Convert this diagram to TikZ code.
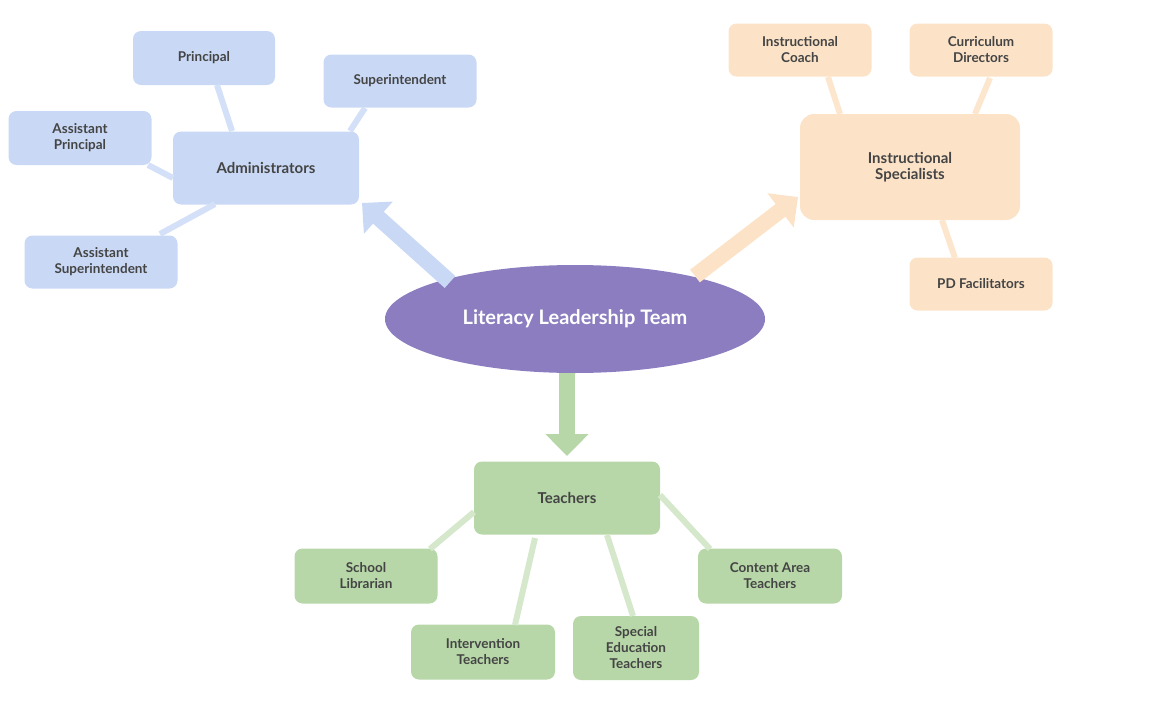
\documentclass[tikz,border=0pt]{standalone}
\usepackage{fontspec}
\setmainfont{Lato}
\usetikzlibrary{shapes.geometric,arrows.meta}
\definecolor{bl}{HTML}{C9D9F5}\definecolor{bll}{HTML}{D3E0F7}
\definecolor{or}{HTML}{FCE3C8}\definecolor{orl}{HTML}{FCE6CE}
\definecolor{gr}{HTML}{B7D7A8}\definecolor{grl}{HTML}{D5E8CC}
\definecolor{pu}{HTML}{8B7DC0}\definecolor{tx}{HTML}{444444}
\tikzset{
 box/.style={rounded corners=8pt,align=center,text=tx,font=\bfseries\fontsize{13.5}{16}\selectfont,inner sep=0pt},
 b/.style={box,fill=bl},o/.style={box,fill=or},g/.style={box,fill=gr},
 lnk/.style={line width=6pt},
 big/.style={line width=16pt,-{Triangle[length=22pt,width=42pt]}}
}
\begin{document}
\begin{tikzpicture}[x=1pt,y=-1pt]
\useasboundingbox (0,0) rectangle (1152,704);
\node[b,minimum width=142pt,minimum height=54pt] (pr) at (204,58) {Principal};
\node[b,minimum width=153pt,minimum height=53pt] (su) at (400,81) {Superintendent};
\node[b,minimum width=143pt,minimum height=54pt] (ap) at (80,138) {Assistant\\Principal};
\node[b,minimum width=186pt,minimum height=73pt] (ad) at (266,168) {\fontsize{15}{18}\selectfont Administrators};
\node[b,minimum width=153pt,minimum height=53pt] (as) at (101,262) {Assistant\\Superintendent};
\node[o,minimum width=143pt,minimum height=53pt] (ic) at (800,50) {Instructional\\Coach};
\node[o,minimum width=143pt,minimum height=53pt] (cd) at (981,50) {Curriculum\\Directors};
\node[o,minimum width=220pt,minimum height=106pt,rounded corners=14pt] (is) at (910,167) {\fontsize{15}{18}\selectfont Instructional\\\fontsize{15}{18}\selectfont Specialists};
\node[o,minimum width=143pt,minimum height=53pt] (pd) at (981,284) {PD Facilitators};
\node[g,minimum width=186pt,minimum height=73pt] (te) at (567,498) {\fontsize{15}{18}\selectfont Teachers};
\node[g,minimum width=143pt,minimum height=55pt] (sl) at (366,576) {School\\Librarian};
\node[g,minimum width=144pt,minimum height=55pt] (it) at (483,652) {Intervention\\Teachers};
\node[g,minimum width=126pt,minimum height=64pt] (se) at (636,648) {Special\\Education\\Teachers};
\node[g,minimum width=144pt,minimum height=55pt] (ca) at (770,576) {Content Area\\Teachers};
\node[ellipse,fill=pu,minimum width=380pt,minimum height=108pt,text=white,font=\bfseries\fontsize{20}{24}\selectfont] (lt) at (575,319) {Literacy Leadership Team};
\begin{scope}[on background layer/.style={}]
\end{scope}
\draw[lnk,bll] (217,85) -- (232,131);
\draw[lnk,bll] (365,108) -- (350,131);
\draw[lnk,bll] (148,165) -- (173,178);
\draw[lnk,bll] (160,234) -- (215,204);
\draw[lnk,orl] (828,77) -- (840,114);
\draw[lnk,orl] (990,78) -- (975,114);
\draw[lnk,orl] (942,220) -- (955,258);
\draw[lnk,grl] (474,512) -- (430,549);
\draw[lnk,grl] (535,538) -- (515,625);
\draw[lnk,grl] (607,535) -- (633,616);
\draw[lnk,grl] (660,495) -- (710,549);
\draw[big,bl] (450,282) -- (362,203);
\draw[big,or] (695,276) -- (798,197);
\draw[big,gr] (567,373) -- (567,456);
\end{tikzpicture}
\end{document}
